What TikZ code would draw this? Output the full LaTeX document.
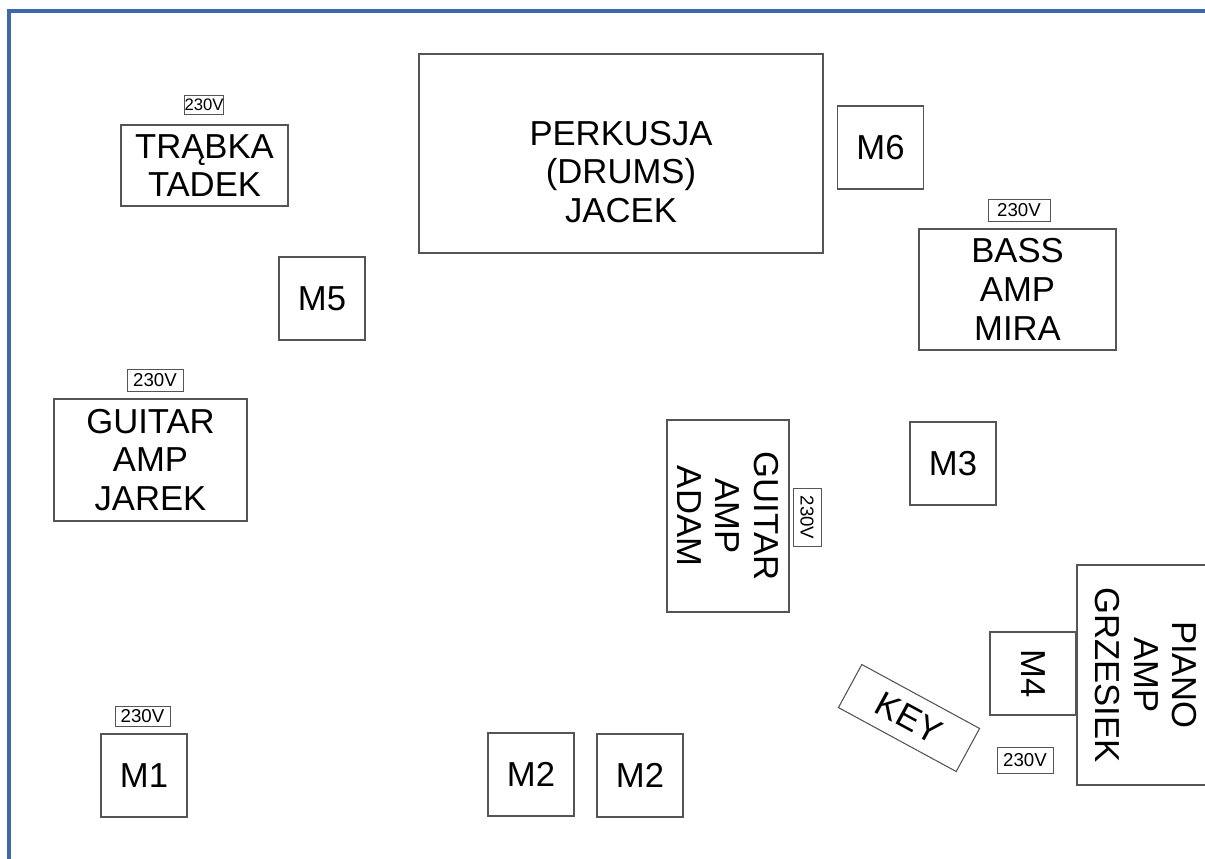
\documentclass[tikz,border=0pt]{standalone}
\usepackage{fontspec}
\setmainfont{Liberation Sans}
\usetikzlibrary{positioning, calc}

\definecolor{framerule}{RGB}{62,104,172}
\definecolor{boxline}{RGB}{85,85,85}

\begin{document}
\begin{tikzpicture}[
        x=0.75pt,
        y=-0.75pt,
        stagebox/.style={
            draw=boxline,
            line width=0.8pt,
            fill=white,
            inner sep=0pt,
            align=center,
            font=\fontsize{26}{29}\selectfont
        },
        micbox/.style={
            stagebox,
            minimum width=64.5pt,
            minimum height=62.25pt
        },
        powerbox/.style={
            draw=boxline,
            line width=0.6pt,
            inner sep=0pt,
            font=\fontsize{14}{16}\selectfont
        }
    ]

        \useasboundingbox (0,0) rectangle (1205,858);
        \clip (0,0) rectangle (1205,858);

        % ---------------------------------------------------------------------
        % Page frame
        % ---------------------------------------------------------------------

        \coordinate (frameTL) at (9,11);
        \coordinate (frameTR) at (1210,11);
        \coordinate (frameBL) at (9,862);

        \draw[framerule, line width=2.4pt] (frameBL) -- (frameTL) -- (frameTR);

        % ---------------------------------------------------------------------
        % Back line: trumpet, drums, bass
        % ---------------------------------------------------------------------

        \node[
            stagebox,
            minimum width=125.25pt,
            minimum height=60.75pt
        ] (trabka) at (204.5,165.5) {
            TRĄBKA\\TADEK
        };

        \node[
            powerbox,
            minimum width=27pt,
            minimum height=14pt,
            font=\fontsize{12.5}{14}\selectfont
        ] (pwrTrabka) at (204,105) {230V};

        \node[
            stagebox,
            minimum width=303pt,
            minimum height=149.25pt
        ] (drums) at (621,153.5) {};

        \node[
            align=center,
            inner sep=0pt,
            font=\fontsize{26}{29}\selectfont
        ] (drumsText) at (621,172) {
            PERKUSJA\\(DRUMS)\\JACEK
        };

        \node[micbox] (m6) at (880.5,147.5) {M6};

        \node[
            stagebox,
            minimum width=147.75pt,
            minimum height=90.75pt
        ] (bass) at (1017.5,289.5) {
            BASS\\AMP\\MIRA
        };

        \node[
            powerbox,
            minimum width=46.5pt,
            minimum height=17pt
        ] (pwrBass) at (1019,210.5) {230V};

        \node[micbox] (m5) at (322,298.5) {M5};

        % ---------------------------------------------------------------------
        % Middle: guitars and M3
        % ---------------------------------------------------------------------

        \node[
            stagebox,
            minimum width=144.75pt,
            minimum height=91.5pt
        ] (jarek) at (150.5,460) {
            GUITAR\\AMP\\JAREK
        };

        \node[
            powerbox,
            minimum width=42pt,
            minimum height=16.5pt
        ] (pwrJarek) at (155,380) {230V};

        \node[
            stagebox,
            rotate=-90,
            minimum width=144pt,
            minimum height=91.5pt
        ] (adam) at (728,516) {
            GUITAR\\AMP\\ADAM
        };

        \node[
            powerbox,
            rotate=-90,
            minimum width=44pt,
            minimum height=21pt
        ] (pwrAdam) at (807,517.5) {230V};

        \node[micbox] (m3) at (953,463.5) {M3};

        % ---------------------------------------------------------------------
        % Front line: M1, M2, keys and piano
        % ---------------------------------------------------------------------

        \node[
            stagebox,
            rotate=-90,
            minimum width=165pt,
            minimum height=103.5pt
        ] (piano) at (1146,675) {
            PIANO\\AMP\\GRZESIEK
        };

        \node[
            micbox,
            rotate=-90,
            minimum width=62.25pt,
            minimum height=64.5pt
        ] (m4) at (1033,673.5) {M4};

        \node[
            stagebox,
            rotate=-28.5,
            minimum width=100.5pt,
            minimum height=36.75pt
        ] (key) at (909,718) {KEY};

        \node[
            powerbox,
            minimum width=42pt,
            minimum height=19.5pt
        ] (pwrKey) at (1025,760) {230V};

        \node[micbox] (m1) at (144,775.5) {M1};

        \node[
            powerbox,
            minimum width=41.25pt,
            minimum height=15pt
        ] (pwrM1) at (142.5,716) {230V};

        \node[micbox] (m2left) at (531,774.5) {M2};
        \node[micbox] (m2right) at (640,775.5) {M2};

    \end{tikzpicture}
\end{document}
